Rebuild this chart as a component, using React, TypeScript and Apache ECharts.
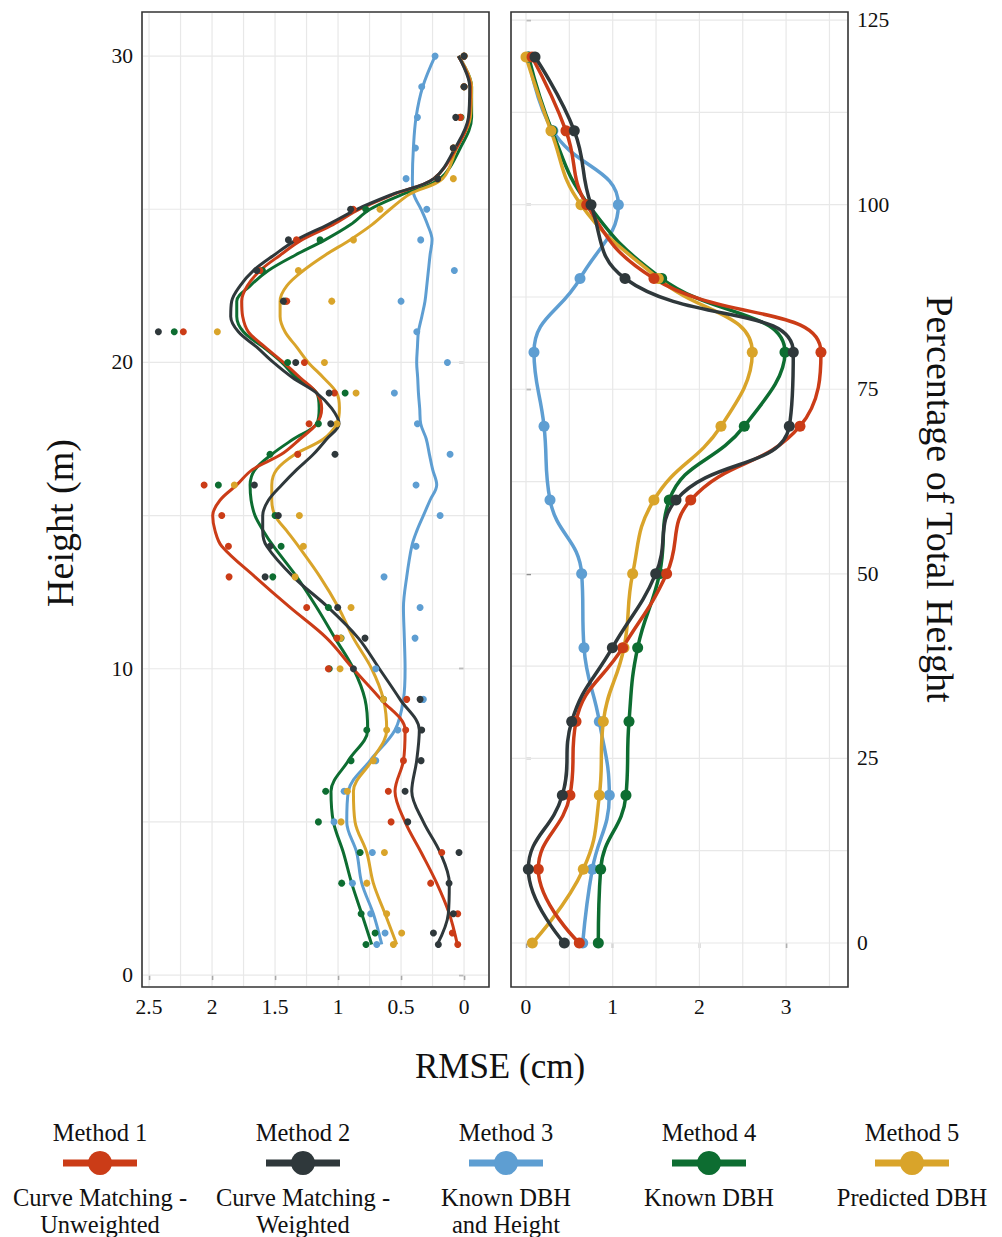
import React, { useEffect, useRef } from 'react';
import * as echarts from 'echarts';

const FONT = "'Liberation Serif', 'Times New Roman', serif";

const methodTitles = ['Method 1', 'Method 2', 'Method 3', 'Method 4', 'Method 5'];
const methodLabels = ['Curve Matching -\nUnweighted', 'Curve Matching -\nWeighted', 'Known DBH\nand Height', 'Known DBH', 'Predicted DBH'];
const colors = ['#CB3C17', '#2F383B', '#5E9ED2', '#0D6D31', '#D9A42A'];
const drawOrder = [2, 3, 4, 0, 1];

// ---- Left panel: RMSE (cm) by height (m) ----
const leftPointHeights = [1, 1.37, 2, 3, 4, 5, 6, 7, 8, 9, 10, 11, 12, 13, 14, 15, 16, 17, 18, 19, 20, 21, 22, 23, 24, 25, 26, 27, 28, 29, 30];
const m1LeftPts = [0.05, 0.093, 0.05, 0.265, 0.177, 0.579, 0.601, 0.481, 0.463, 0.455, 1.077, 1.01, 1.249, 1.865, 1.87, 1.923, 2.063, 1.32, 1.23, 1.029, 1.267, 2.228, 1.407, 1.62, 1.33, 0.88, 0.21, 0.085, 0.03, 0.0, 0.0];
const m2LeftPts = [0.204, 0.243, 0.085, 0.119, 0.04, 0.447, 0.468, 0.341, 0.336, 0.349, 0.878, 0.786, 1.003, 1.579, 1.54, 1.474, 1.664, 1.024, 1.058, 1.071, 1.336, 2.426, 1.434, 1.645, 1.394, 0.9, 0.21, 0.085, 0.066, 0.0, 0.0];
const m3LeftPts = [0.693, 0.627, 0.741, 0.886, 0.728, 1.032, 0.952, 0.701, 0.526, 0.323, 0.701, 0.389, 0.349, 0.635, 0.381, 0.19, 0.381, 0.111, 0.37, 0.553, 0.132, 0.375, 0.5, 0.077, 0.344, 0.296, 0.46, 0.386, 0.37, 0.336, 0.23];
const m4LeftPts = [0.778, 0.706, 0.817, 0.971, 0.825, 1.156, 1.098, 0.897, 0.772, 0.64, 1.07, 0.976, 1.077, 1.518, 1.452, 1.5, 1.95, 1.54, 1.156, 0.944, 1.4, 2.3, 1.42, 1.6, 1.143, 0.78, 0.21, 0.085, 0.024, 0.0, 0.0];
const m5LeftPts = [0.561, 0.495, 0.614, 0.772, 0.632, 0.976, 0.926, 0.72, 0.614, 0.64, 0.984, 0.98, 0.897, 1.341, 1.275, 1.307, 1.823, 1.32, 1.01, 0.857, 1.108, 1.958, 1.05, 1.315, 0.878, 0.667, 0.085, 0.085, 0.03, 0.0, 0.0];

const leftLineHeights = [1, 2, 3, 4, 5, 6, 7, 8, 9, 10, 11, 12, 13, 14, 14.5, 15, 15.5, 16, 16.5, 17, 17.5, 18, 18.5, 19, 19.5, 20, 20.5, 21, 21.5, 22, 22.5, 23, 23.5, 24, 24.5, 25, 25.5, 26, 27, 28, 29, 30];
const m1LeftLine = [0.053, 0.117, 0.217, 0.34, 0.468, 0.548, 0.481, 0.468, 0.66, 0.88, 1.09, 1.381, 1.659, 1.923, 1.976, 1.995, 1.937, 1.804, 1.68, 1.45, 1.302, 1.169, 1.13, 1.169, 1.3, 1.434, 1.579, 1.712, 1.757, 1.765, 1.72, 1.619, 1.46, 1.288, 1.04, 0.83, 0.55, 0.24, 0.06, -0.04, -0.05, 0.045];
const m2LeftLine = [0.212, 0.125, 0.117, 0.19, 0.323, 0.415, 0.376, 0.355, 0.508, 0.672, 0.839, 1.077, 1.355, 1.566, 1.598, 1.598, 1.553, 1.447, 1.328, 1.196, 1.09, 0.992, 1.05, 1.169, 1.36, 1.513, 1.645, 1.791, 1.852, 1.844, 1.778, 1.672, 1.51, 1.33, 1.08, 0.85, 0.561, 0.24, 0.071, -0.035, -0.045, 0.045];
const m3LeftLine = [0.653, 0.72, 0.812, 0.852, 0.931, 0.918, 0.746, 0.548, 0.481, 0.468, 0.474, 0.481, 0.455, 0.415, 0.375, 0.323, 0.27, 0.217, 0.249, 0.275, 0.3, 0.344, 0.352, 0.362, 0.368, 0.376, 0.37, 0.362, 0.335, 0.31, 0.296, 0.283, 0.27, 0.254, 0.29, 0.341, 0.4, 0.41, 0.402, 0.381, 0.328, 0.23];
const m4LeftLine = [0.733, 0.812, 0.892, 0.958, 1.037, 1.056, 0.918, 0.765, 0.786, 0.878, 1.024, 1.169, 1.328, 1.513, 1.593, 1.659, 1.69, 1.698, 1.659, 1.526, 1.354, 1.169, 1.15, 1.169, 1.33, 1.447, 1.593, 1.751, 1.804, 1.804, 1.698, 1.553, 1.341, 1.103, 0.9, 0.746, 0.481, 0.19, 0.03, -0.06, -0.06, 0.045];
const m5LeftLine = [0.534, 0.627, 0.72, 0.772, 0.865, 0.878, 0.733, 0.614, 0.64, 0.733, 0.878, 0.997, 1.143, 1.315, 1.407, 1.5, 1.526, 1.526, 1.487, 1.341, 1.116, 1.01, 0.989, 1.01, 1.116, 1.236, 1.328, 1.421, 1.46, 1.46, 1.407, 1.275, 1.103, 0.905, 0.73, 0.587, 0.429, 0.17, 0.058, -0.05, -0.06, 0.045];

// ---- Right panel: RMSE (cm) by percentage of total height ----
const pctHeights = [0, 10, 20, 30, 40, 50, 60, 70, 80, 90, 100, 110, 120];
const m1Right = [0.615, 0.142, 0.507, 0.577, 1.115, 1.622, 1.9, 3.16, 3.402, 1.476, 0.7, 0.461, 0.07];
const m2Right = [0.442, 0.027, 0.419, 0.527, 0.996, 1.496, 1.73, 3.037, 3.083, 1.142, 0.75, 0.557, 0.104];
const m3Right = [0.654, 0.765, 0.961, 0.846, 0.669, 0.642, 0.277, 0.208, 0.092, 0.623, 1.065, 0.31, 0.03];
const m4Right = [0.834, 0.861, 1.153, 1.188, 1.288, 1.54, 1.653, 2.518, 2.987, 1.565, 0.72, 0.3, 0.03];
const m5Right = [0.073, 0.661, 0.846, 0.892, 1.13, 1.23, 1.476, 2.249, 2.61, 1.526, 0.634, 0.288, 0.0];

// ---- Axis ticks and grid lines ----
const leftXTicks = [0, 0.5, 1, 1.5, 2, 2.5];
const leftXGrid = [0, 0.25, 0.5, 0.75, 1, 1.25, 1.5, 1.75, 2, 2.25, 2.5];
const leftYTicks = [0, 10, 20, 30];
const leftYGrid = [0, 5, 10, 15, 20, 25, 30];
const rightXTicks = [0, 1, 2, 3];
const rightXGrid = [0, 0.5, 1, 1.5, 2, 2.5, 3, 3.5];
const rightYTicks = [0, 25, 50, 75, 100, 125];
const rightYGrid = [0, 12.5, 25, 37.5, 50, 62.5, 75, 87.5, 100, 112.5, 125];

const leftPts = [m1LeftPts, m2LeftPts, m3LeftPts, m4LeftPts, m5LeftPts];
const leftLines = [m1LeftLine, m2LeftLine, m3LeftLine, m4LeftLine, m5LeftLine];
const rightVals = [m1Right, m2Right, m3Right, m4Right, m5Right];

function gridLines(idx: number, values: number[], dir: 'v' | 'h') {
  return {
    type: 'custom',
    xAxisIndex: idx,
    yAxisIndex: idx,
    silent: true,
    z: 1,
    data: values.map((v) => (dir === 'v' ? [v, idx === 0 ? 10 : 50] : [1, v])),
    renderItem: (params: any, api: any) => {
      const cs = params.coordSys;
      const p = api.coord([api.value(0), api.value(1)]);
      if (dir === 'v') {
        return { type: 'line', shape: { x1: p[0], y1: cs.y + 1, x2: p[0], y2: cs.y + cs.height - 1 }, style: { stroke: '#E8E8E8', lineWidth: 1.2 } };
      }
      return { type: 'line', shape: { x1: cs.x + 1, y1: p[1], x2: cs.x + cs.width - 1, y2: p[1] }, style: { stroke: '#E8E8E8', lineWidth: 1.2 } };
    },
  };
}

const tickStyle = { show: true, length: 5, lineStyle: { color: '#333', width: 1.3 } };
const labelStyle = { fontSize: 21.5, color: '#111', fontFamily: FONT, margin: 9 };
const titleStyle = { fontFamily: FONT, fill: '#111', align: 'center', verticalAlign: 'middle', textAlign: 'center', textVerticalAlign: 'middle' };

export default function App() {
  const ref = useRef<HTMLDivElement>(null);
  useEffect(() => {
    document.body.style.margin = '0';
    if (!ref.current) return;
    const chart = echarts.init(ref.current, undefined, { renderer: 'svg' });

    const series: any[] = [
      gridLines(0, leftXGrid, 'v'),
      gridLines(0, leftYGrid, 'h'),
      gridLines(1, rightXGrid, 'v'),
      gridLines(1, rightYGrid, 'h'),
    ];
    drawOrder.forEach((m) => {
      series.push({
        type: 'line',
        name: methodTitles[m],
        xAxisIndex: 0,
        yAxisIndex: 0,
        data: leftLineHeights.map((h, i) => [leftLines[m][i], h]),
        smooth: 0.35,
        symbol: 'none',
        showSymbol: false,
        lineStyle: { color: colors[m], width: 3 },
        emphasis: { disabled: true },
        z: 3,
      });
    });
    drawOrder.forEach((m) => {
      series.push({
        type: 'scatter',
        name: methodTitles[m] + ' points',
        xAxisIndex: 0,
        yAxisIndex: 0,
        data: leftPointHeights.map((h, i) => [leftPts[m][i], h]),
        symbolSize: 7,
        itemStyle: { color: colors[m], opacity: 1 },
        emphasis: { disabled: true },
        z: 4,
      });
    });
    drawOrder.forEach((m) => {
      series.push({
        type: 'line',
        name: methodTitles[m] + ' pct',
        xAxisIndex: 1,
        yAxisIndex: 1,
        data: pctHeights.map((p, i) => [rightVals[m][i], p]),
        smooth: 0.45,
        symbol: 'circle',
        symbolSize: 11,
        showSymbol: true,
        lineStyle: { color: colors[m], width: 3.5 },
        itemStyle: { color: colors[m] },
        emphasis: { disabled: true },
        z: 3,
      });
    });

    const graphics: any[] = [
      { type: 'text', x: 500, y: 1066, style: { ...titleStyle, text: 'RMSE (cm)', fontSize: 35 } },
      { type: 'text', x: 60, y: 523, rotation: Math.PI / 2, style: { ...titleStyle, text: 'Height (m)', fontSize: 38 } },
      { type: 'text', x: 940, y: 499, rotation: -Math.PI / 2, style: { ...titleStyle, text: 'Percentage of Total Height', fontSize: 38 } },
    ];
    methodTitles.forEach((t, i) => {
      const cx = 100 + i * 203;
      graphics.push({ type: 'text', x: cx, y: 1132, style: { ...titleStyle, text: t, fontSize: 24.5 } });
      graphics.push({ type: 'line', shape: { x1: cx - 37, y1: 1163, x2: cx + 37, y2: 1163 }, style: { stroke: colors[i], lineWidth: 7 } });
      graphics.push({ type: 'circle', shape: { cx, cy: 1163, r: 12 }, style: { fill: colors[i] } });
      graphics.push({ type: 'text', x: cx, y: 1183.5, style: { ...titleStyle, text: methodLabels[i], fontSize: 24.5, lineHeight: 27, verticalAlign: 'top', textVerticalAlign: 'top' } });
    });

    chart.setOption({
      animation: false,
      backgroundColor: '#fff',
      grid: [
        { left: 142, top: 12, width: 347, height: 975, show: true, borderColor: '#333', borderWidth: 1.6, backgroundColor: 'transparent' },
        { left: 511, top: 12, width: 337, height: 975, show: true, borderColor: '#333', borderWidth: 1.6, backgroundColor: 'transparent' },
      ],
      xAxis: [
        {
          type: 'value', gridIndex: 0, min: -0.198, max: 2.556, inverse: true,
          axisLine: { show: false }, splitLine: { show: false },
          axisTick: { ...tickStyle, customValues: leftXTicks },
          axisLabel: { ...labelStyle, customValues: leftXTicks },
        },
        {
          type: 'value', gridIndex: 1, min: -0.173, max: 3.714,
          axisLine: { show: false }, splitLine: { show: false },
          axisTick: { ...tickStyle, customValues: rightXTicks },
          axisLabel: { ...labelStyle, customValues: rightXTicks },
        },
      ],
      yAxis: [
        {
          type: 'value', gridIndex: 0, min: -0.39, max: 31.44,
          axisLine: { show: false }, splitLine: { show: false },
          axisTick: { ...tickStyle, customValues: leftYTicks },
          axisLabel: { ...labelStyle, customValues: leftYTicks },
        },
        {
          type: 'value', gridIndex: 1, min: -5.96, max: 126.1, position: 'right',
          axisLine: { show: false }, splitLine: { show: false },
          axisTick: { ...tickStyle, customValues: rightYTicks },
          axisLabel: { ...labelStyle, customValues: rightYTicks },
        },
      ],
      series,
      graphic: graphics,
    });

    return () => chart.dispose();
  }, []);

  return <div ref={ref} style={{ width: 1002, height: 1237 }} />;
}
